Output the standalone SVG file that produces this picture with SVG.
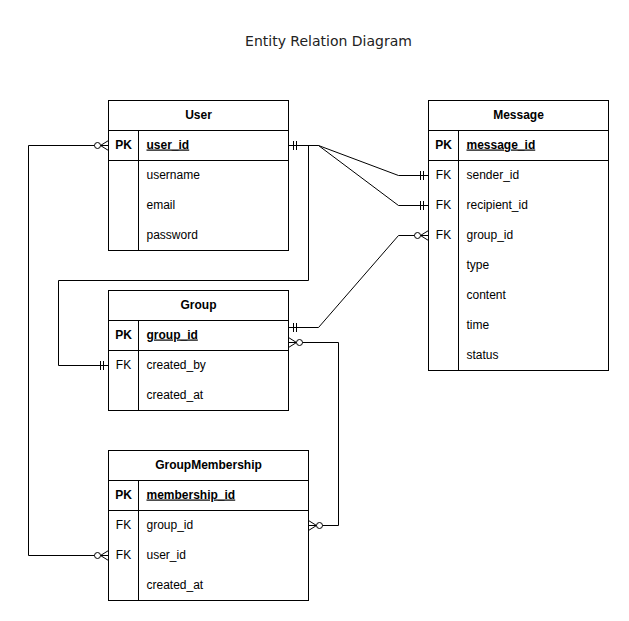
<svg xmlns="http://www.w3.org/2000/svg" width="629" height="621" viewBox="0 0 629 621">
<defs>
<style>
.box{fill:#fff;stroke:#000;stroke-width:1}
.ln{fill:none;stroke:#000;stroke-width:1}
.hd{font-family:"Liberation Sans",Arial,sans-serif;font-size:12px;font-weight:bold;text-anchor:middle;fill:#000}
.pk{font-family:"Liberation Sans",Arial,sans-serif;font-size:12px;font-weight:bold;text-anchor:middle;fill:#000}
.fk{font-family:"Liberation Sans",Arial,sans-serif;font-size:12px;text-anchor:middle;fill:#000}
.key{font-family:"Liberation Sans",Arial,sans-serif;font-size:12px;font-weight:bold;text-decoration:underline;fill:#000}
.f{font-family:"Liberation Sans",Arial,sans-serif;font-size:12px;fill:#000}
.title{font-family:"DejaVu Sans",Verdana,sans-serif;font-size:14px;text-anchor:middle;fill:#222}
.conn{fill:none;stroke:#000;stroke-width:1}
</style>
<marker id="one" viewBox="-14 -7 16 14" refX="0" refY="0" markerWidth="16" markerHeight="14" markerUnits="userSpaceOnUse" orient="auto-start-reverse" overflow="visible">
<path d="M-5,-4.5V4.5M-8,-4.5V4.5" fill="none" stroke="#000" stroke-width="1"/>
</marker>
<marker id="zmany" viewBox="-16 -7 18 14" refX="0" refY="0" markerWidth="18" markerHeight="14" markerUnits="userSpaceOnUse" orient="auto-start-reverse" overflow="visible">
<path d="M0,-5L-8,0L0,5" fill="none" stroke="#000" stroke-width="1"/>
<circle cx="-11" cy="0" r="3" fill="#fff" stroke="#000" stroke-width="1"/>
</marker>
</defs>
<rect width="629" height="621" fill="#fff"/>
<g transform="translate(0.5,0.5)">
<text class="title" x="328" y="45">Entity Relation Diagram</text>

<g id="connectors">
<path class="conn" d="M288,145H318L398,175H428" marker-start="url(#one)" marker-end="url(#one)"/>
<path class="conn" d="M288,145H318L398,205H428" marker-start="url(#one)" marker-end="url(#one)"/>
<path class="conn" d="M288,145H308V280H58V365H108" marker-start="url(#one)" marker-end="url(#one)"/>
<path class="conn" d="M288,327H318L398,235H428" marker-start="url(#one)" marker-end="url(#zmany)"/>
<path class="conn" d="M288,342H338V525H308" marker-start="url(#zmany)" marker-end="url(#zmany)"/>
<path class="conn" d="M108,145H28V555H108" marker-start="url(#zmany)" marker-end="url(#zmany)"/>
</g>

<g id="User">
<rect class="box" x="108" y="100" width="180" height="150"/>
<path class="ln" d="M108,130H288M108,160H288M138,130V250"/>
<text class="hd" x="198" y="118">User</text>
<text class="pk" x="123" y="148">PK</text>
<text class="key" x="146" y="148">user_id</text>
<text class="f" x="146" y="178">username</text>
<text class="f" x="146" y="208">email</text>
<text class="f" x="146" y="238">password</text>
</g>

<g id="Message">
<rect class="box" x="428" y="100" width="180" height="270"/>
<path class="ln" d="M428,130H608M428,160H608M458,130V370"/>
<text class="hd" x="518" y="118">Message</text>
<text class="pk" x="443" y="148">PK</text>
<text class="key" x="466" y="148">message_id</text>
<text class="fk" x="443" y="178">FK</text>
<text class="f" x="466" y="178">sender_id</text>
<text class="fk" x="443" y="208">FK</text>
<text class="f" x="466" y="208">recipient_id</text>
<text class="fk" x="443" y="238">FK</text>
<text class="f" x="466" y="238">group_id</text>
<text class="f" x="466" y="268">type</text>
<text class="f" x="466" y="298">content</text>
<text class="f" x="466" y="328">time</text>
<text class="f" x="466" y="358">status</text>
</g>

<g id="Group">
<rect class="box" x="108" y="290" width="180" height="120"/>
<path class="ln" d="M108,320H288M108,350H288M138,320V410"/>
<text class="hd" x="198" y="308">Group</text>
<text class="pk" x="123" y="338">PK</text>
<text class="key" x="146" y="338">group_id</text>
<text class="fk" x="123" y="368">FK</text>
<text class="f" x="146" y="368">created_by</text>
<text class="f" x="146" y="398">created_at</text>
</g>

<g id="GroupMembership">
<rect class="box" x="108" y="450" width="200" height="150"/>
<path class="ln" d="M108,480H308M108,510H308M138,480V600"/>
<text class="hd" x="208" y="468">GroupMembership</text>
<text class="pk" x="123" y="498">PK</text>
<text class="key" x="146" y="498">membership_id</text>
<text class="fk" x="123" y="528">FK</text>
<text class="f" x="146" y="528">group_id</text>
<text class="fk" x="123" y="558">FK</text>
<text class="f" x="146" y="558">user_id</text>
<text class="f" x="146" y="588">created_at</text>
</g>
</g>
</svg>
